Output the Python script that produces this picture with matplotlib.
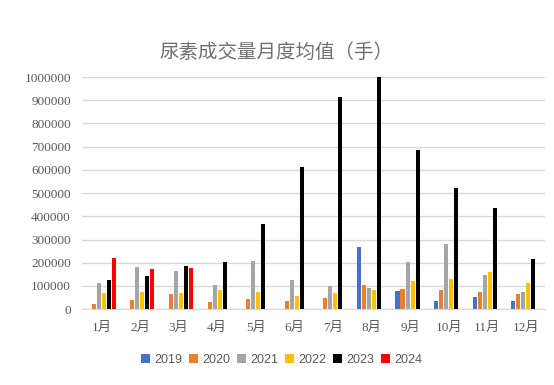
import numpy as np
import matplotlib
matplotlib.use("Agg")
import matplotlib.pyplot as plt

months = ["1月", "2月", "3月", "4月", "5月", "6月", "7月", "8月", "9月", "10月", "11月", "12月"]
years = ["2019", "2020", "2021", "2022", "2023", "2024"]
nan = np.nan

# 各年份月度均值（手）
v2019 = [nan, nan, nan, nan, nan, nan, nan, 268000, 78000, 35000, 52000, 35000]
v2020 = [22000, 39000, 65000, 30000, 43000, 35000, 47000, 104000, 86000, 82000, 73000, 65000]
v2021 = [112000, 181000, 164000, 104000, 207000, 125000, 99000, 91000, 203000, 281000, 147000, 73000]
v2022 = [69000, 73000, 69000, 82000, 73000, 56000, 69000, 82000, 121000, 130000, 160000, 112000]
v2023 = [125000, 142000, 186000, 203000, 367000, 612000, 914000, 1000000, 685000, 521000, 435000, 216000]
v2024 = [220000, 173000, 177000, nan, nan, nan, nan, nan, nan, nan, nan, nan]

series = [v2019, v2020, v2021, v2022, v2023, v2024]
colors = ["#4472C4", "#ED7D31", "#A5A5A5", "#FFC000", "#000000", "#FF0000"]

plt.rcParams['font.family'] = ['Liberation Serif', 'Noto Sans CJK SC', 'DejaVu Sans']

fig = plt.figure(figsize=(5.54, 3.85), dpi=100)
ax = fig.add_axes([0.148, 0.197, 0.836, 0.603])

x = np.arange(len(months))
step = 0.13
w = 0.105
for i, (vals, c, yr) in enumerate(zip(series, colors, years)):
    ax.bar(x + (i - 2.5) * step, vals, width=w, color=c, label=yr, zorder=3)

ax.set_xlim(-0.5, len(months) - 0.5)
ax.set_ylim(0, 1000000)
ax.set_yticks(np.arange(0, 1000001, 100000))
ax.set_yticklabels([str(v) for v in range(0, 1000001, 100000)])
ax.set_xticks(x)
ax.set_xticklabels(months)
ax.grid(axis='y', color='#D9D9D9', linewidth=1, zorder=0)
for s in ['top', 'right', 'left']:
    ax.spines[s].set_visible(False)
ax.spines['bottom'].set_color('#D9D9D9')
ax.tick_params(axis='both', length=0, colors='#595959', labelsize=9.5)
ax.tick_params(axis='x', pad=9)
ax.tick_params(axis='y', pad=8)

fig.text(0.498, 0.865, "尿素成交量月度均值（手）", ha='center', va='center',
         fontsize=14, color='#707070', family=['Noto Sans CJK SC'], fontweight='light')

fig.legend(loc='center', bbox_to_anchor=(0.508, 0.065), ncol=6, frameon=False,
           prop={'family': ['Liberation Sans'], 'size': 9},
           handlelength=0.75, handleheight=0.75, handletextpad=0.3,
           columnspacing=0.55, labelcolor='#595959')

fig.savefig("out.png", dpi=100)
